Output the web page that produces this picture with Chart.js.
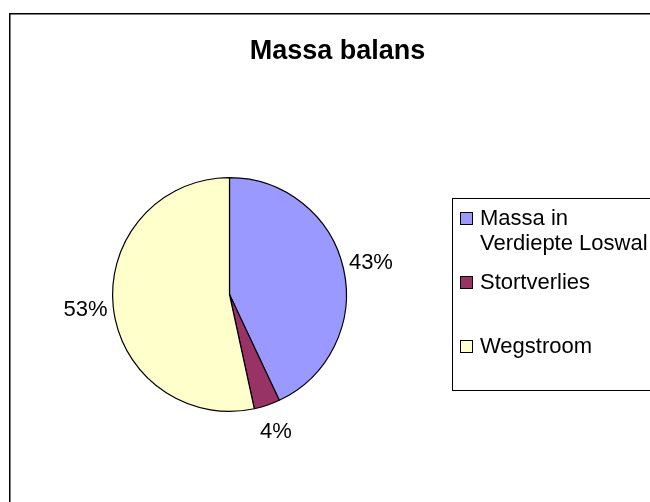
<!DOCTYPE html>
<html>
<head>
<meta charset="utf-8">
<title>Massa balans</title>
<script src="https://cdn.jsdelivr.net/npm/chart.js@4.4.0/dist/chart.umd.min.js"></script>
<style>
  html, body { margin: 0; padding: 0; background: #fff; overflow: hidden; }
  canvas { display: block; }
</style>
</head>
<body>
<canvas id="massaChart" width="650" height="502"></canvas>
<script>
const chartTitle = 'Massa balans';
const categories = ['Massa in Verdiepte Loswal', 'Stortverlies', 'Wegstroom'];
const values = [43.0, 3.6, 53.4];
const sliceColors = ['#9999ff', '#993366', '#ffffcc'];

const FONT = '"Liberation Sans", Arial, sans-serif';

// split a legend label into lines that fit maxWidth
function wrapText(ctx, text, maxWidth) {
  const words = text.split(' ');
  const lines = [];
  let line = '';
  words.forEach(w => {
    const test = line ? line + ' ' + w : w;
    if (line && ctx.measureText(test).width > maxWidth) {
      lines.push(line);
      line = w;
    } else {
      line = test;
    }
  });
  if (line) lines.push(line);
  return lines;
}

const excelLook = {
  id: 'excelLook',
  beforeDraw(chart) {
    const ctx = chart.ctx;
    ctx.save();
    ctx.fillStyle = '#fff';
    ctx.fillRect(0, 0, chart.width, chart.height);

    // outer chart frame (runs off the right and bottom edge)
    ctx.strokeStyle = '#000';
    ctx.lineWidth = 1.5;
    ctx.strokeRect(9.75, 13.75, 800, 700);

    ctx.fillStyle = '#000';
    ctx.font = 'bold 27px ' + FONT;
    ctx.textAlign = 'center';
    ctx.textBaseline = 'alphabetic';
    ctx.fillText(chartTitle, 337.5, 59);
    ctx.restore();
  },
  afterDatasetsDraw(chart) {
    const ctx = chart.ctx;
    const meta = chart.getDatasetMeta(0);
    const total = values.reduce((a, b) => a + b, 0);
    ctx.save();
    ctx.fillStyle = '#000';
    ctx.font = '22px ' + FONT;
    ctx.textAlign = 'center';
    ctx.textBaseline = 'middle';
    meta.data.forEach((arc, i) => {
      const p = arc.getProps(['x', 'y', 'startAngle', 'endAngle', 'outerRadius'], true);
      const mid = (p.startAngle + p.endAngle) / 2;
      const d = p.outerRadius + 28;
      const pct = Math.round(values[i] / total * 100) + '%';
      ctx.fillText(pct, p.x + Math.cos(mid) * d, p.y + Math.sin(mid) * d);
    });

    // legend box
    const box = { left: 452.5, top: 198.5, height: 192 };
    ctx.strokeStyle = '#000';
    ctx.lineWidth = 1;
    ctx.strokeRect(box.left, box.top, 400, box.height);

    const slot = box.height / categories.length;
    ctx.textAlign = 'left';
    categories.forEach((cat, i) => {
      const lines = wrapText(ctx, cat, 172);
      const y0 = box.top + slot * i + 20;
      ctx.fillStyle = sliceColors[i];
      ctx.fillRect(460.5, y0 - 6, 12, 12);
      ctx.strokeRect(460.5, y0 - 6, 12, 12);
      ctx.fillStyle = '#000';
      lines.forEach((ln, k) => {
        ctx.fillText(ln, 480, y0 + k * 25);
      });
    });
    ctx.restore();
  }
};

new Chart(document.getElementById('massaChart'), {
  type: 'pie',
  data: {
    labels: categories,
    datasets: [{
      data: values,
      backgroundColor: sliceColors,
      borderColor: '#000',
      borderWidth: 1.2
    }]
  },
  options: {
    responsive: false,
    animation: false,
    devicePixelRatio: 1,
    layout: {
      padding: { left: 112, right: 303, top: 177, bottom: 90 }
    },
    plugins: {
      legend: { display: false },
      title: { display: false },
      tooltip: { enabled: false }
    }
  },
  plugins: [excelLook]
});
</script>
</body>
</html>
